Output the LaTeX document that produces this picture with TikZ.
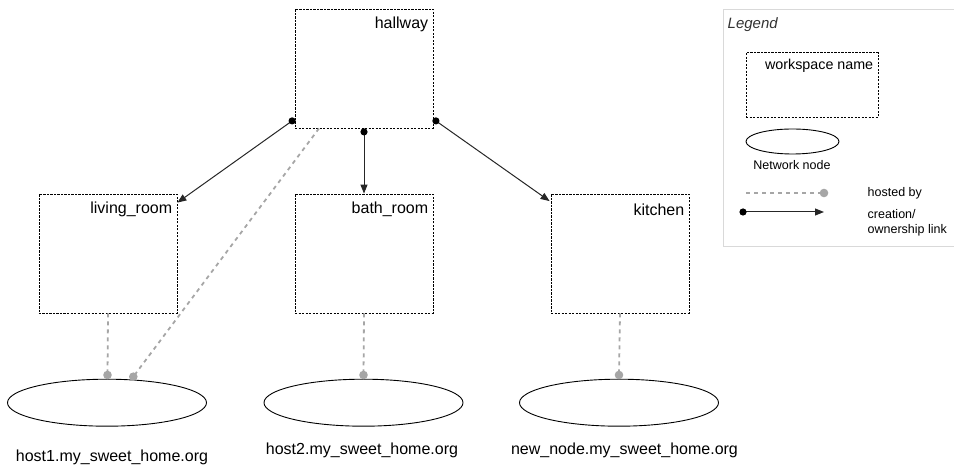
\documentclass[tikz,border=0pt]{standalone}
\usepackage{fontspec}
\setmainfont{Liberation Sans}
\usetikzlibrary{arrows.meta,shapes.geometric,calc}
\definecolor{hostgray}{HTML}{A6A6A6}
\definecolor{legendborder}{HTML}{D9D9D9}
\tikzset{
  wsbox/.style={draw, dash pattern=on 2.2bp off 1.3bp, line width=0.8bp, rectangle,
    minimum width=138bp, minimum height=119bp, inner sep=0pt},
  wslabel/.style={anchor=east, inner sep=0pt, font=\fontsize{16bp}{19bp}\selectfont},
  netnode/.style={draw, ellipse, line width=0.9bp, minimum width=199bp, minimum height=47bp, inner sep=0pt},
  hostlabel/.style={inner sep=0pt, font=\fontsize{16bp}{19bp}\selectfont},
  hosted/.style={draw=hostgray, line width=1.8bp, dash pattern=on 4bp off 4bp},
  hostdot/.style={fill=hostgray, draw=none},
  owns/.style={draw=black!85, line width=1bp, -{Triangle[length=9bp,width=7bp]}},
  ownsdot/.style={fill=black},
  smalltext/.style={inner sep=0pt, font=\fontsize{12.5bp}{15bp}\selectfont},
}
\begin{document}
\begin{tikzpicture}[x=1bp,y=-1bp]
\useasboundingbox (0,0) rectangle (954,465);

% workspaces
\node[wsbox] (hall) at (364,68.5) {};
\node[wsbox] (living) at (108,253.5) {};
\node[wsbox] (bath) at (364,253.5) {};
\node[wsbox] (kitchen) at (620,253.5) {};
\node[wslabel] (hallT) at ($(hall.north east)+(-5,16)$) {hallway};
\node[wslabel] (livingT) at ($(living.north east)+(-5,16)$) {living\_room};
\node[wslabel] (bathT) at ($(bath.north east)+(-5,16)$) {bath\_room};
\node[wslabel] (kitchenT) at ($(kitchen.north east)+(-5,16)$) {kitchen};

% network nodes
\node[netnode] (h1) at (107,402.7) {};
\node[netnode] (h2) at (363.5,402.7) {};
\node[netnode] (h3) at (619,402.7) {};
\node[hostlabel] (h1T) at (112,457) {host1.my\_sweet\_home.org};
\node[hostlabel] (h2T) at (362,450) {host2.my\_sweet\_home.org};
\node[hostlabel] (h3T) at (624.5,450) {new\_node.my\_sweet\_home.org};

% hosted-by links
\coordinate (d1) at (107.5,375);
\coordinate (d1b) at (133.3,376.7);
\coordinate (d2) at (363.5,375);
\coordinate (d3) at (619,375);
\draw[hosted] (living.south) -- (d1);
\draw[hosted] ($(hall.south)+(-45,0)$) -- (d1b);
\draw[hosted] (bath.south) -- (d2);
\draw[hosted] (kitchen.south) -- (d3);
\fill[hostdot] (d1) circle (4.3bp);
\fill[hostdot] (d1b) circle (4.3bp);
\fill[hostdot] (d2) circle (4.3bp);
\fill[hostdot] (d3) circle (4.3bp);

% creation / ownership links
\coordinate (oL) at ($(hall.south west)+(-2.5,-7.5)$);
\coordinate (oM) at ($(hall.south)+(0,3.5)$);
\coordinate (oR) at ($(hall.south east)+(2.5,-7.5)$);
\coordinate (tL) at ($(living.north east)+(0,9)$);
\coordinate (tR) at ($(kitchen.north west)+(-1,7.5)$);
\draw[owns] (oL) -- (tL);
\draw[owns] (oM) -- (bath.north);
\draw[owns] (oR) -- (tR);
\fill[ownsdot] (oL) circle (3.6bp);
\fill[ownsdot] (oM) circle (3.6bp);
\fill[ownsdot] (oR) circle (3.6bp);

% legend
\draw[legendborder, line width=0.8bp] (960,9) -- (723,9) -- (723,246) -- (960,246);
\node[anchor=west, inner sep=0pt, text=black!80, font=\itshape\fontsize{15bp}{18bp}\selectfont] (legT) at (727.5,25) {Legend};
\node[wsbox, minimum width=132bp, minimum height=64.6bp] (lbox) at (812,85) {};
\node[anchor=east, inner sep=0pt, font=\fontsize{14.3bp}{17bp}\selectfont] (lboxT) at ($(lbox.north east)+(-5,14)$) {workspace name};
\node[draw, ellipse, line width=0.9bp, minimum width=93bp, minimum height=25bp, inner sep=0pt] (lell) at (792.5,141.5) {};
\node[smalltext] (lellT) at (792,165) {Network node};
\coordinate (lh0) at (746,193);
\coordinate (lh1) at (824,193);
\draw[hosted] (lh0) -- (lh1);
\fill[hostdot] (lh1) circle (4.3bp);
\node[smalltext, anchor=west] (lhT) at (867.5,193) {hosted by};
\coordinate (lo0) at (743,212);
\coordinate (lo1) at (824,212);
\draw[owns] (lo0) -- (lo1);
\fill[ownsdot] (lo0) circle (3.6bp);
\node[smalltext, anchor=west, align=left] (loT) at (867.5,222.5) {creation/\\ownership link};
\end{tikzpicture}
\end{document}
